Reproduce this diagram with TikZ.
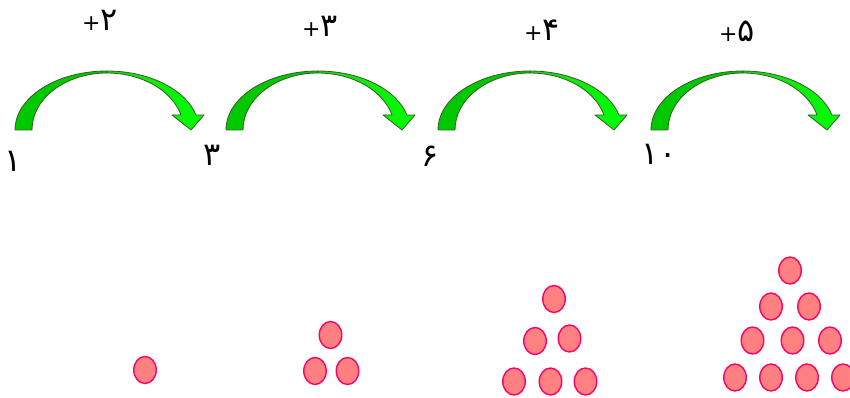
\documentclass[tikz,border=0pt]{standalone}
\usepackage{fontspec}
\newfontfamily\fa[Script=Arabic]{DejaVu Sans}
\newfontfamily\plainf{DejaVu Sans}
\usetikzlibrary{shapes.geometric}
\definecolor{darkg}{RGB}{0,200,0}
\definecolor{brightg}{RGB}{0,255,0}
\definecolor{midg}{RGB}{30,215,30}
\definecolor{outg}{RGB}{55,90,35}
\definecolor{dotfill}{RGB}{255,128,128}
\definecolor{dotline}{RGB}{255,0,102}
\newcommand{\plusdig}[1]{{\plainf\fontsize{22}{24}\selectfont +}{\fa\fontsize{32}{34}\selectfont #1}}
\tikzset{
  dot/.style={ellipse, draw=dotline, fill=dotfill, line width=1.4pt,
    minimum width=22.5pt, minimum height=27pt, inner sep=0pt},
  steplbl/.style={inner sep=0pt},
  numlbl/.style={font=\fa\fontsize{32}{34}\selectfont, inner sep=0pt},
  curvarrow/.pic={
    \fill[darkg, draw=outg, line width=0.8pt, line join=round]
      (-92,0) arc[start angle=180, end angle=90, x radius=92, y radius=59]
      -- (0,57) arc[start angle=90, end angle=180, x radius=75, y radius=57] -- cycle;
    \shade[left color=midg, right color=brightg, draw=outg, line width=0.8pt, line join=round]
      (0,59) arc[start angle=90, end angle=14.7, x radius=92, y radius=59]
      -- (97,15) -- (84,0) -- (65,15) -- (74,15)
      arc[start angle=15.3, end angle=90, x radius=76.7, y radius=57] -- cycle;
  }
}
\begin{document}
\begin{tikzpicture}[x=1pt, y=1pt]
\useasboundingbox (0,0) rectangle (850,398);
% arrows
\pic at (107,268) {curvarrow};
\pic at (318,268) {curvarrow};
\pic at (530,268) {curvarrow};
\pic at (743,268) {curvarrow};
% step labels
\node[steplbl] (s1) at (100,378) {\plusdig{۲}};
\node[steplbl] (s2) at (320,372) {\plusdig{۳}};
\node[steplbl] (s3) at (542,368) {\plusdig{۴}};
\node[steplbl] (s4) at (737,367) {\plusdig{۵}};
% numbers
\node[numlbl] (n1) at (13,237) {۱};
\node[numlbl] (n2) at (212,243) {۳};
\node[numlbl] (n3) at (430,242) {۶};
\node[numlbl] (n4) at (659,244) {۱۰};
% group 1
\node[dot] (a1) at (145,28) {};
% group 2
\node[dot] (b1) at (330.5,63) {};
\node[dot] (b2) at (315,27) {};
\node[dot] (b3) at (347.5,27) {};
% group 3
\node[dot] (c1) at (554,99) {};
\node[dot] (c2) at (535,57) {};
\node[dot] (c3) at (569.5,59.5) {};
\node[dot] (c4) at (514,16.5) {};
\node[dot] (c5) at (550.5,16.5) {};
\node[dot] (c6) at (585.5,16.5) {};
% group 4
\node[dot] (d1) at (790,127.5) {};
\node[dot] (d2) at (771,91.5) {};
\node[dot] (d3) at (809,91.5) {};
\node[dot] (d4) at (752.5,57.5) {};
\node[dot] (d5) at (792.5,57.5) {};
\node[dot] (d6) at (830,57.5) {};
\node[dot] (d7) at (735,20.5) {};
\node[dot] (d8) at (771,20.5) {};
\node[dot] (d9) at (807,20.5) {};
\node[dot] (d10) at (843,20.5) {};
\end{tikzpicture}
\end{document}
